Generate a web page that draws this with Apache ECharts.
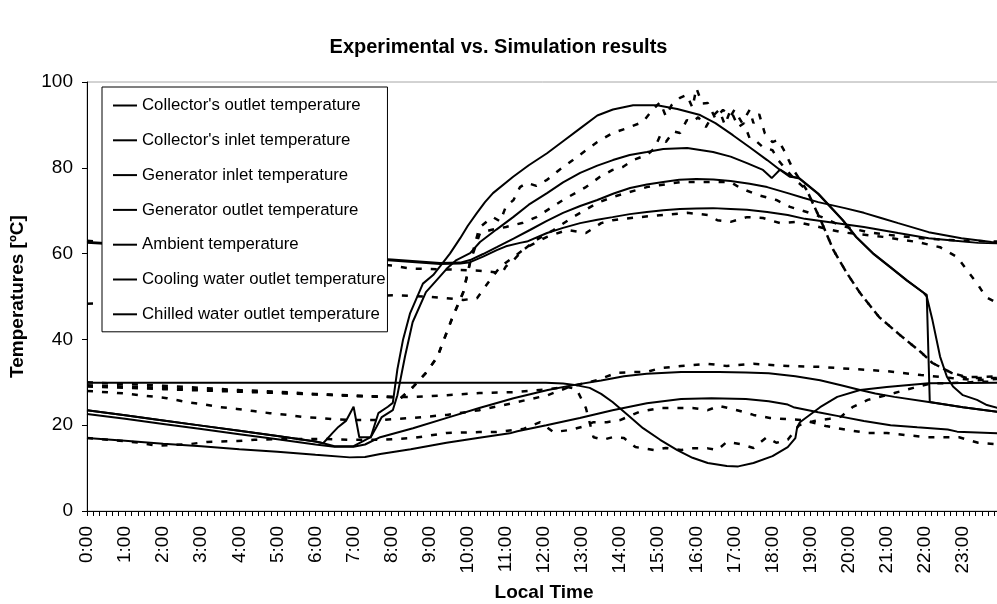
<!DOCTYPE html>
<html>
<head>
<meta charset="utf-8">
<script src="https://cdn.jsdelivr.net/npm/echarts@6/dist/echarts.min.js"></script>
<style>
  html, body { margin: 0; padding: 0; background: #fff; }
  #chart { width: 997px; height: 604px; }
</style>
</head>
<body>
<div id="chart"></div>
<script>
// legend names (solid = simulation)
var legendNames = [
  "Collector's outlet temperature",
  "Collector's inlet temperature",
  "Generator inlet temperature",
  "Generator outlet temperature",
  "Ambient temperature",
  "Cooling water outlet temperature",
  "Chilled water outlet temperature"
];

// x = hour of day, y = temperature [ºC]
// simulation results
var simCollectorOut = [[0,23.5],[1,22.3],[2,21.1],[3,19.9],[4,18.7],[5,17.5],[6,16.2],[6.2,15.8],[6.45,18.2],[6.6,19.6],[6.8,21],[7.0,24.3],[7.15,17.2],[7.45,17.2],[7.65,22.8],[7.9,24.3],[8.03,25.2],[8.15,33],[8.3,40],[8.48,46],[8.82,53],[9.09,55],[9.27,57],[9.53,60],[9.8,63.6],[10.0,66.5],[10.24,69.5],[10.45,72],[10.66,74.1],[11.19,77.9],[11.6,80.6],[12.08,83.4],[12.5,86.2],[12.95,89.2],[13.4,92.2],[13.81,93.6],[14.34,94.6],[14.97,94.6],[15.5,93.7],[16.1,92.3],[16.5,90.4],[16.96,87.6],[17.4,84.8],[17.86,81.8],[18.2,79.5],[18.46,77.9],[18.7,77.6],[19.2,74],[19.6,70.2],[19.85,67.8],[20.2,63.9],[20.64,60.1],[21.09,56.9],[21.53,53.8],[21.95,51],[22.05,50.4],[22.13,25.4],[23,24.2],[24,23]];
var simCollectorIn = [[0,23.5],[1,22.3],[2,21.1],[3,19.9],[4,18.7],[5,17.5],[6,16.2],[6.2,15.8],[6.5,15.1],[7.0,15.1],[7.45,17.2],[7.6,19.6],[7.74,21.9],[8.03,23.5],[8.15,27],[8.35,36],[8.55,44],[8.9,51],[9.2,54],[9.45,56.5],[9.7,58.5],[10.06,60.1],[10.32,62.7],[10.75,65.6],[11.19,68.5],[11.6,71.4],[12.08,74.1],[12.5,76.6],[12.95,78.8],[13.4,80.5],[13.81,81.8],[14.25,83],[14.7,83.7],[15.13,84.4],[15.76,84.6],[16.44,83.7],[16.9,82.6],[17.33,81.1],[17.75,79.5],[17.98,77.6],[18.2,79.6],[18.46,78.1],[18.7,77.5],[19.2,73.9],[19.6,70.1],[19.85,67.7],[20.2,63.8],[20.64,60],[21.09,56.8],[21.53,53.7],[21.95,51],[22.05,50],[22.2,44.5],[22.4,36],[22.58,31.3],[22.74,29],[23,27],[23.37,25.9],[23.63,24.7],[24,23.8]];
var simGenIn = [[0,62.7],[2,61.7],[4,60.6],[6,59.6],[8,58.6],[9.27,57.8],[9.8,57.9],[10.06,58.5],[10.4,59.9],[10.76,61.5],[11.2,63.5],[11.63,65.5],[12.05,67.5],[12.5,69.5],[12.95,71.1],[13.4,72.5],[13.83,74],[14.26,75.3],[14.7,76.1],[15.13,76.7],[15.55,77.2],[16.0,77.4],[16.45,77.3],[16.9,76.9],[17.4,76.3],[17.86,75.5],[18.4,74.1],[18.8,73],[19.2,72],[19.9,70.6],[20.4,69.5],[20.85,68.3],[21.3,67.1],[22.1,65],[22.96,63.6],[23.75,62.7],[24,62.6]];
var simGenOut = [[0,62.5],[2,61.5],[4,60.5],[6,59.5],[8,58.4],[9.27,57.6],[9.8,57.7],[10.06,58],[10.4,59.3],[10.76,60.8],[11.0,61.7],[11.37,62.5],[11.55,62.8],[12.08,64.8],[12.5,66],[12.95,67.1],[13.4,67.9],[13.8,68.5],[14.25,69.2],[14.7,69.7],[15.13,70.1],[15.57,70.4],[16.0,70.5],[16.44,70.6],[16.9,70.4],[17.33,70.2],[17.86,69.7],[18.4,69],[18.85,68.1],[19.6,67.2],[20.4,66.2],[21.3,64.8],[22.1,63.6],[22.8,63],[23.4,62.5],[24,62.4]];
var simAmbient = [[0,17],[1,16.4],[2,15.7],[3,15.1],[4,14.4],[5,13.8],[6,13.1],[6.9,12.5],[7.3,12.6],[7.7,13.3],[8.5,14.4],[9.44,15.9],[10.3,17.1],[11.1,18.1],[11.3,18.6],[12.06,20],[12.94,21.7],[13.8,23.5],[14.7,25.1],[15.6,26.1],[16.4,26.3],[17.3,26.1],[17.9,25.6],[18.4,24.8],[18.55,24.2],[19.2,23],[19.8,22],[20.4,21],[21.1,20],[21.8,19.5],[22.6,19],[22.85,18.5],[24,18.1]];
var simCooling = [[0,22.6],[1,21.5],[2,20.3],[3,19.1],[4,17.9],[5,16.7],[6,15.5],[6.5,15],[7.0,15],[7.3,15.5],[7.7,17.2],[8.56,19.3],[9.45,21.7],[10.3,24],[11.2,26.3],[12.1,28.2],[12.8,29.4],[13.5,30.4],[14.1,31.4],[14.7,32],[15.6,32.4],[16.6,32.4],[17.3,32.3],[17.9,32.1],[18.6,31.4],[19.25,30.5],[19.8,29.3],[20.3,28.2],[20.7,27.4],[21.2,26.6],[22.1,25.4],[23,24.2],[24,23]];
var simChilled = [[0,29.9],[6,29.9],[12.05,29.9],[12.5,29.7],[12.8,29.4],[13.2,28.7],[13.5,27.3],[13.8,25.4],[14.2,22.4],[14.6,19.3],[15.05,16.6],[15.5,14.2],[15.9,12.4],[16.3,11.2],[16.8,10.5],[17.1,10.4],[17.5,11.2],[18.0,12.8],[18.4,14.9],[18.6,17],[18.65,19.6],[18.72,20.7],[19.25,24.2],[19.7,26.6],[20.3,28.2],[21,28.9],[22.1,29.8],[24,29.9]];

// experimental results
var expCollectorOut = [[0,30],[1,29.6],[2,29.2],[3,28.7],[4,28.2],[5,27.8],[6,27.3],[7,26.9],[8,26.6],[8.2,26],[8.56,28.9],[8.9,32.2],[9.2,35.9],[9.44,41.5],[9.6,45.2],[9.88,51],[10.06,58],[10.3,66],[10.5,67.5],[10.66,68.5],[10.85,67.5],[11.0,71],[11.2,72.5],[11.37,75.5],[11.55,76.5],[11.8,75.8],[12.08,77.2],[12.4,79.5],[12.76,81.8],[13.0,83.4],[13.4,86],[13.8,88.1],[14.2,89.3],[14.6,90.7],[14.85,93.5],[15.05,95.3],[15.2,92],[15.35,94.6],[15.57,96.3],[15.75,97],[15.9,94],[16.0,98.6],[16.15,95],[16.3,95.1],[16.5,91.5],[16.7,93.5],[16.9,92],[17.0,93.5],[17.2,90.5],[17.4,93.5],[17.5,90.4],[17.65,92.5],[17.8,88],[18.0,86],[18.15,86.5],[18.3,84.1],[18.55,79.5],[18.9,74.8],[19.3,67.1],[19.6,60.8],[19.95,55.5],[20.3,50.8],[20.8,45.2],[21.35,41],[21.9,37],[22.2,34.5],[22.7,32.2],[23.1,31],[24,31]];
var expCollectorIn = [[0,29],[1,28.7],[2,28.4],[3,28.1],[4,27.8],[5,27.5],[6,27.2],[7,26.9],[8,26.6],[8.2,26],[8.56,28.9],[8.9,32.2],[9.2,35.9],[9.44,41.5],[9.6,45.2],[9.88,51],[10.06,58],[10.32,64.8],[10.6,65.5],[11.0,66.2],[11.45,67.2],[11.8,68.5],[12.5,72.5],[13.1,75.5],[13.47,77.9],[13.8,79.5],[14.07,80.2],[14.34,81.8],[14.7,83],[14.9,84.5],[15.05,87.5],[15.2,86],[15.4,88.5],[15.57,88.1],[15.75,91.1],[15.9,90.7],[16.05,91.8],[16.25,89.5],[16.4,91.8],[16.6,93.5],[16.75,90],[16.9,93.5],[17.1,89.5],[17.25,90.4],[17.4,86.9],[17.6,86],[17.75,84.8],[18.0,84.1],[18.15,81.8],[18.3,80.2],[18.55,77.6],[18.9,74.8],[19.3,67.1],[19.6,60.8],[19.95,55.5],[20.3,50.8],[20.8,45.2],[21.35,41],[21.9,37],[22.2,34.5],[22.7,32.2],[23.1,31.2],[24,31.4]];
var expGenIn = [[0,63],[1,62.3],[2,61.6],[3,60.9],[4,60.2],[5,59.5],[6,58.8],[7,58],[8,57.2],[8.5,56.5],[9.5,56.3],[10.3,56],[10.9,55.5],[11.0,57],[11.2,58.5],[11.45,60.8],[11.8,63.2],[12.25,65.5],[12.76,68.5],[13.4,71.8],[13.8,73.2],[14.7,75.5],[15.6,76.7],[16.4,76.7],[16.9,76.7],[17.15,75.3],[17.6,73.7],[18.1,72.5],[18.46,70.9],[18.9,69.7],[19.3,68.5],[19.8,66.5],[20.5,65],[21.2,64.2],[22,63.5],[23,63],[24,62.8]];
var expGenOut = [[0,48.3],[2,48.8],[4,49.3],[6,49.8],[8.14,50.3],[9,49.9],[9.44,49.6],[9.88,49.2],[10.24,49.6],[10.58,53.8],[10.85,56.9],[11.2,59.2],[11.55,61.5],[12.08,63.9],[12.6,65.5],[13.1,64.8],[13.5,67.1],[13.8,67.8],[14.5,68.5],[15.13,69],[15.76,69.5],[16.3,69],[16.55,67.8],[16.9,67.4],[17.33,68.5],[17.75,68.3],[18.2,67.1],[18.63,67.4],[18.98,66.7],[19.8,65],[20.9,63.9],[21.8,62.7],[22.4,61.5],[22.85,59.2],[23.1,56.2],[23.4,52.7],[23.6,49.9],[24,48]];
var expAmbient = [[0,17],[0.6,16.6],[1.4,15.9],[1.84,15.2],[2.7,15.6],[3.15,16.1],[3.95,16.3],[4.4,16.6],[5.25,16.8],[6.1,16.8],[7,16.6],[7.7,16.6],[8.56,17],[9.45,18.2],[10.3,18.4],[10.75,18.4],[11.45,19.1],[11.9,20.7],[12.25,18.4],[12.7,18.9],[13.0,19.6],[13.3,20.7],[13.65,20.7],[14.0,21.2],[14.5,23.1],[15.05,24],[15.9,24],[16.3,23.5],[16.6,24.5],[17.07,23.5],[17.5,22.4],[17.93,21.7],[18.4,21.4],[18.8,21.2],[19.4,19.8],[19.95,18.9],[20.5,18.2],[21,18.2],[21.5,17.7],[22.05,17.2],[22.9,17.2],[23.4,15.9],[24,15.5]];
var expCooling = [[0,28],[1,27.4],[2.1,26.3],[2.6,25.4],[3.05,24.9],[3.5,24.2],[3.94,23.8],[4.37,23.3],[4.8,22.8],[5.25,22.4],[5.68,21.9],[6.1,21.7],[6.47,21.4],[7,21.2],[7.7,21.2],[8.56,21.7],[9.45,22.4],[10.3,23.5],[11.2,25.2],[12.1,27],[12.6,28.7],[13,29.7],[13.4,30.5],[13.9,32.2],[14.35,32.4],[14.7,32.4],[15.05,33.3],[15.6,33.8],[16.3,34.3],[16.8,33.8],[17.5,34.3],[18.4,33.8],[19.25,33.6],[20.1,33.1],[21,32.6],[21.9,31.7],[22.7,31],[23.4,30.5],[24,30.8]];
var expChilled = [[0,29.3],[1,29],[2,28.7],[3,28.3],[4,28],[5,27.6],[6,27.2],[7,26.8],[7.7,26.6],[8.56,26.6],[9.45,27],[10.3,27.5],[11.2,27.7],[12.1,28.4],[12.6,28.9],[12.85,28.5],[13.1,24],[13.3,17.2],[13.55,16.6],[13.8,17.2],[14.1,17],[14.4,14.9],[14.9,14.2],[15.2,14.7],[15.6,14.2],[15.9,14.6],[16.3,14.6],[16.55,14.2],[16.8,16.1],[17.15,15.6],[17.5,14.7],[17.85,17.2],[18.1,15.9],[18.4,16.6],[18.7,20],[19.1,21],[19.5,21.5],[19.8,22],[20.1,24.2],[20.5,25.9],[21.2,27.5],[21.7,28.7],[22.2,29.8],[22.7,29.8],[23.4,30.1],[24,30.2]];

var simData = [simCollectorOut, simCollectorIn, simGenIn, simGenOut, simAmbient, simCooling, simChilled];
var expData = [expCollectorOut, expCollectorIn, expGenIn, expGenOut, expAmbient, expCooling, expChilled];

var FONT = 'Liberation Sans';

var series = [];
simData.forEach(function (d, i) {
  series.push({
    name: legendNames[i],
    type: 'line',
    data: d,
    symbol: 'none',
    clip: true,
    lineStyle: { color: '#000', width: 2 },
    itemStyle: { color: '#000' },
    z: 3
  });
});
expData.forEach(function (d, i) {
  series.push({
    name: legendNames[i] + ' (exp.)',
    type: 'line',
    data: d,
    symbol: 'none',
    clip: true,
    lineStyle: { color: '#000', width: 2.5, type: [6, 9] },
    itemStyle: { color: '#000' },
    z: 2
  });
});

var myChart = echarts.init(document.getElementById('chart'));
myChart.setOption({
  animation: false,
  backgroundColor: '#fff',
  title: {
    text: 'Experimental vs. Simulation results',
    left: 'center',
    top: 37,
    padding: 0,
    textStyle: { fontFamily: FONT, fontSize: 20, fontWeight: 'bold', color: '#000' }
  },
  legend: {
    data: legendNames,
    orient: 'vertical',
    left: 102,
    top: 87,
    padding: [10, 2, 9, 11],
    itemGap: 17.8,
    itemWidth: 24,
    itemHeight: 2,
    icon: 'rect',
    backgroundColor: '#fff',
    borderColor: '#000',
    borderWidth: 1,
    selectedMode: false,
    textStyle: { fontFamily: FONT, fontSize: 16.8, color: '#000' }
  },
  grid: {
    left: 87,
    top: 82,
    right: -4,
    bottom: 93,
    outerBoundsMode: 'none',
    containLabel: false,
    show: true,
    borderColor: '#a6a6a6',
    borderWidth: 1,
    backgroundColor: 'transparent'
  },
  xAxis: {
    type: 'value',
    min: 0,
    max: 24,
    interval: 1,
    name: 'Local Time',
    nameLocation: 'middle',
    nameGap: 72,
    nameTextStyle: { fontFamily: FONT, fontSize: 19, fontWeight: 'bold', color: '#000' },
    axisLine: { lineStyle: { color: '#000', width: 1 } },
    axisTick: { show: true, length: 5, lineStyle: { color: '#000' } },
    minorTick: { show: true, splitNumber: 6, length: 5, lineStyle: { color: '#000' } },
    splitLine: { show: false },
    axisLabel: {
      rotate: 90,
      margin: 15,
      fontFamily: FONT,
      fontSize: 19,
      color: '#000',
      formatter: function (v) { return v < 24 ? v + ':00' : ''; }
    }
  },
  yAxis: {
    type: 'value',
    min: 0,
    max: 100,
    interval: 20,
    name: 'Temperatures [ºC]',
    nameLocation: 'middle',
    nameGap: 60,
    nameTextStyle: { fontFamily: FONT, fontSize: 19, fontWeight: 'bold', color: '#000' },
    axisLine: { show: true, lineStyle: { color: '#000', width: 1 } },
    axisTick: { show: true, length: 5, lineStyle: { color: '#000' } },
    splitLine: { show: false },
    axisLabel: { margin: 14, fontFamily: FONT, fontSize: 19, color: '#000' }
  },
  series: series
});
</script>
</body>
</html>
